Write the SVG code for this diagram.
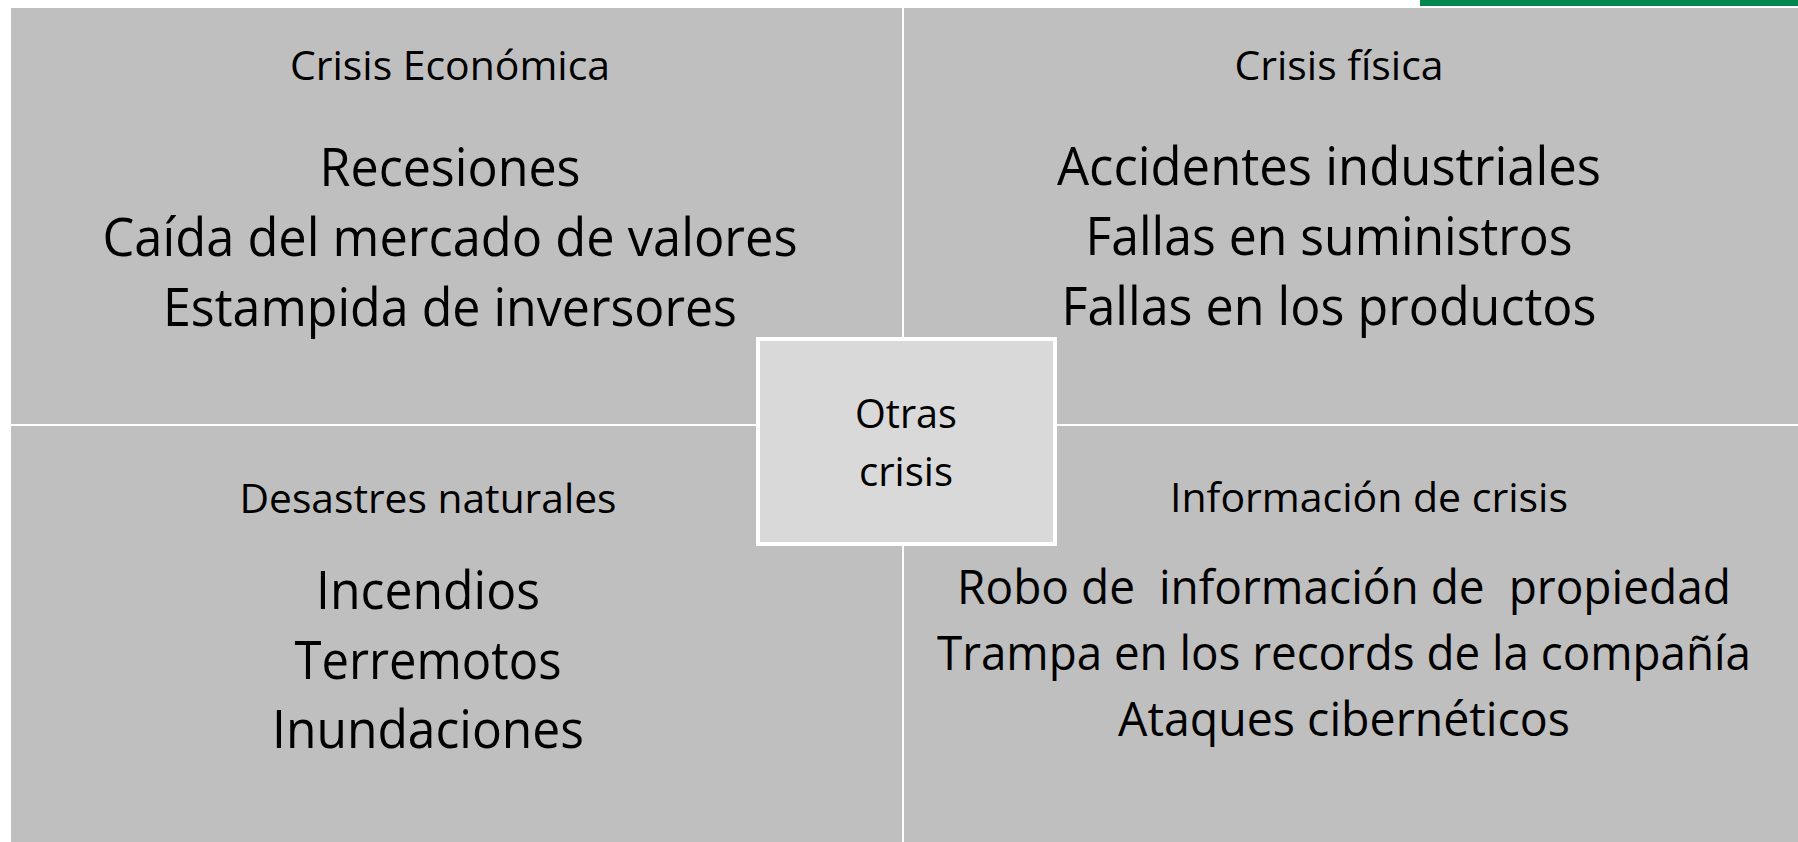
<svg xmlns="http://www.w3.org/2000/svg" width="1798" height="842" viewBox="0 0 1798 842">
<style>
.q{fill:#bfbfbf}
text{font-family:"Open Sans","Noto Sans",sans-serif;fill:#000;text-anchor:middle;white-space:pre}
.t{font-size:40px}
.b{font-size:53px}
.s{font-size:47px}
.c{font-size:41px}
</style>
<rect x="0" y="0" width="1798" height="842" fill="#ffffff"/>
<rect x="1420" y="0" width="378" height="6" fill="#00874f"/>
<g id="connectors"></g>
<g id="q-economica">
<rect class="q" x="11" y="8" width="891" height="416"/>
<text class="t" x="450" y="80" textLength="320" lengthAdjust="spacingAndGlyphs">Crisis Económica</text>
<text class="b" x="450" y="186" textLength="261" lengthAdjust="spacingAndGlyphs">Recesiones</text>
<text class="b" x="450" y="256" textLength="695" lengthAdjust="spacingAndGlyphs">Caída del mercado de valores</text>
<text class="b" x="450" y="326" textLength="574" lengthAdjust="spacingAndGlyphs">Estampida de inversores</text>
</g>
<g id="q-fisica">
<rect class="q" x="904" y="8" width="894" height="416"/>
<text class="t" x="1339" y="80" textLength="209" lengthAdjust="spacingAndGlyphs">Crisis física</text>
<text class="b" x="1329" y="185" textLength="544" lengthAdjust="spacingAndGlyphs">Accidentes industriales</text>
<text class="b" x="1329" y="255" textLength="487" lengthAdjust="spacingAndGlyphs">Fallas en suministros</text>
<text class="b" x="1329" y="325" textLength="535" lengthAdjust="spacingAndGlyphs">Fallas en los productos</text>
</g>
<g id="q-naturales">
<rect class="q" x="11" y="426" width="891" height="416"/>
<text class="t" x="428" y="513" textLength="377" lengthAdjust="spacingAndGlyphs">Desastres naturales</text>
<text class="b" x="428" y="609" textLength="224" lengthAdjust="spacingAndGlyphs">Incendios</text>
<text class="b" x="428" y="679" textLength="267" lengthAdjust="spacingAndGlyphs">Terremotos</text>
<text class="b" x="428" y="748" textLength="312" lengthAdjust="spacingAndGlyphs">Inundaciones</text>
</g>
<g id="q-informacion">
<rect class="q" x="904" y="426" width="894" height="416"/>
<text class="t" x="1369" y="512" textLength="398" lengthAdjust="spacingAndGlyphs">Información de crisis</text>
<text class="s" x="1344" y="604" textLength="774" lengthAdjust="spacingAndGlyphs">Robo de  información de  propiedad</text>
<text class="s" x="1344" y="670" textLength="814" lengthAdjust="spacingAndGlyphs">Trampa en los records de la compañía</text>
<text class="s" x="1344" y="736" textLength="452" lengthAdjust="spacingAndGlyphs">Ataques cibernéticos</text>
</g>
<g id="otras">
<rect x="758" y="339" width="297" height="205" fill="#d9d9d9" stroke="#ffffff" stroke-width="4"/>
<text class="c" x="906" y="428" textLength="102" lengthAdjust="spacingAndGlyphs">Otras</text>
<text class="c" x="906" y="486" textLength="94" lengthAdjust="spacingAndGlyphs">crisis</text>
</g>
</svg>
